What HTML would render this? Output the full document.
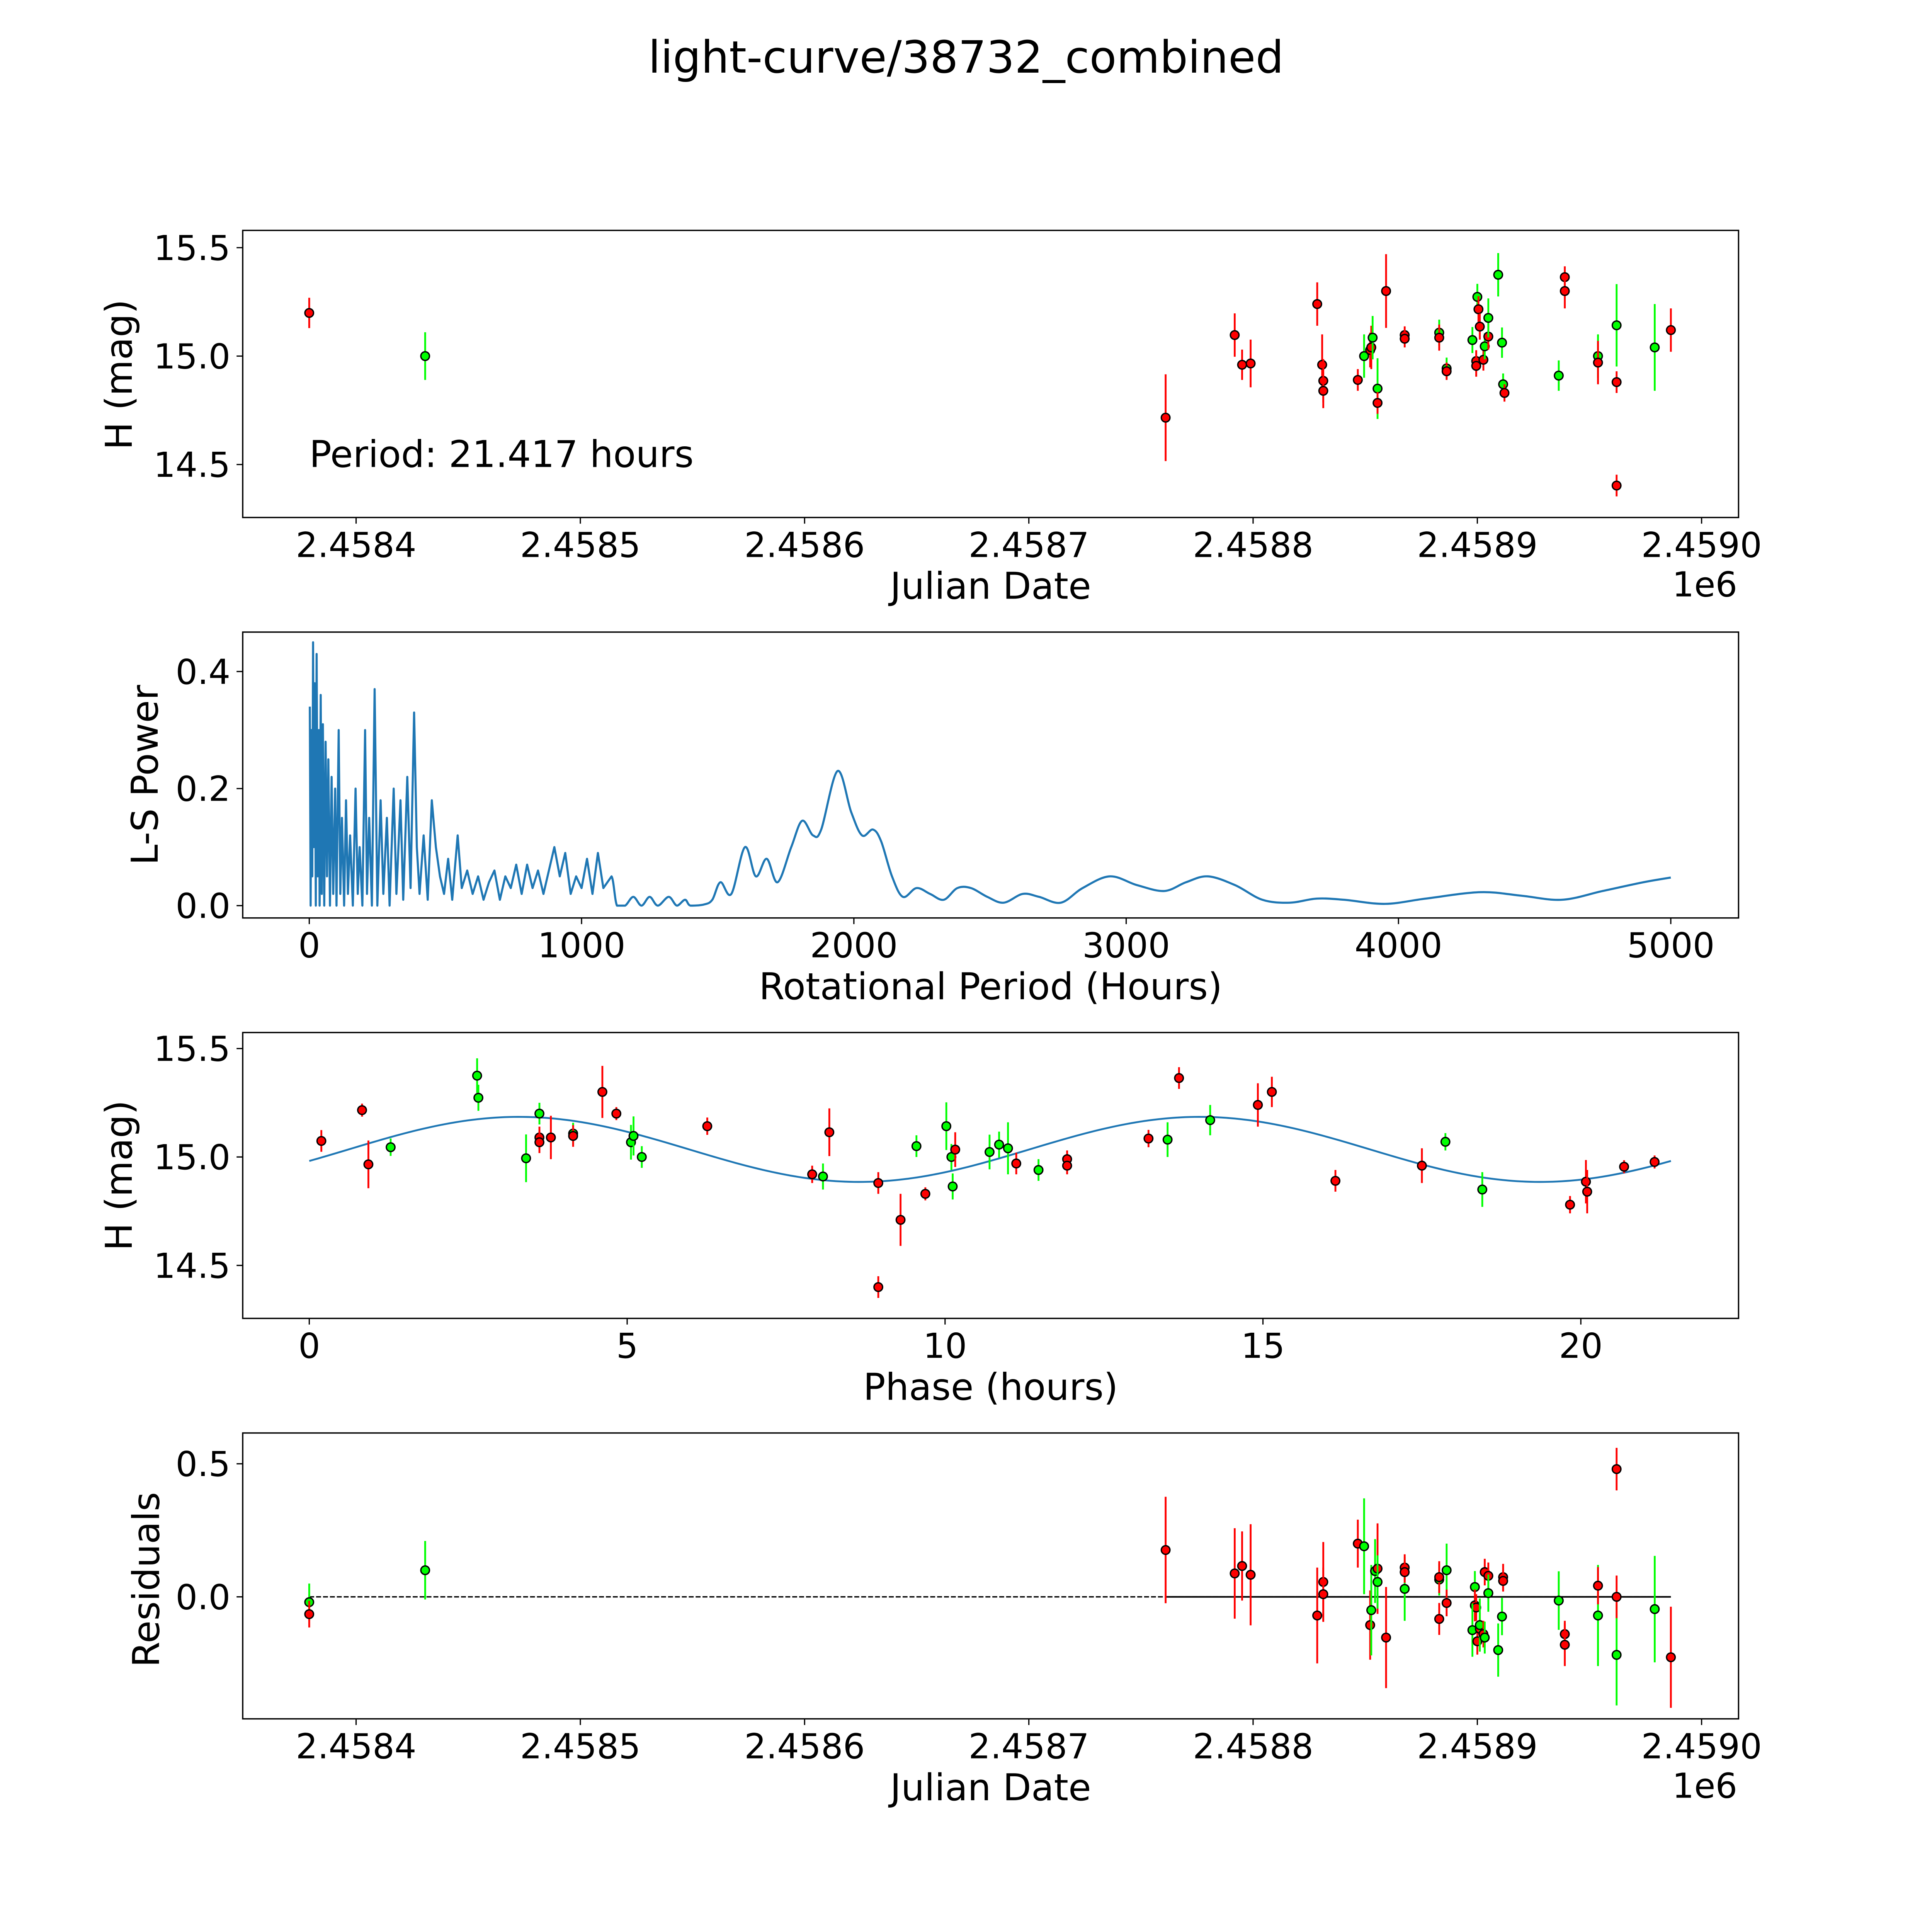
<!DOCTYPE html>
<html><head><meta charset="utf-8"><style>
html,body{margin:0;padding:0;background:#fff;overflow:hidden;width:100vw;height:100vh}
svg{display:block;position:fixed;left:0;top:0;width:100vw;height:100vh}
text{font-family:"DejaVu Sans","Liberation Sans",sans-serif;fill:#000}
</style></head><body>
<svg id="fig" viewBox="0 0 1568 1568" preserveAspectRatio="none" xmlns="http://www.w3.org/2000/svg">
<rect width="1568" height="1568" fill="#fff"/>
<text x="784" y="59" font-size="36" text-anchor="middle">light-curve/38732_combined</text>
</svg>
<script>
// ---------- Panel 1: raw light curve (JD offset from 2458400, mag, err, band) ----------
const lcJD   = [-20.9,30.8,361.0,391.8,395.1,398.9,428.6,430.8,431.3,431.3,446.7,449.5,452.2,452.7,453.3,455.5,455.5,459.3,467.6,467.6,483.0,483.0,486.3,486.3,497.8,499.5,499.5,500.0,500.5,501.1,502.7,503.3,504.9,504.9,509.3,511.0,511.5,512.1,536.3,539.0,539.0,553.8,553.8,562.1,562.1,562.1,579.1,586.3];
const lcMag  = [15.199,15.0,14.716,15.097,14.96,14.966,15.24,14.96,14.886,14.84,14.89,15.0,15.028,15.04,15.085,14.85,14.784,15.30,15.097,15.08,15.108,15.085,14.943,14.93,15.074,14.977,14.955,15.273,15.216,15.136,14.983,15.045,15.09,15.176,15.375,15.062,14.87,14.83,14.91,15.364,15.30,15.0,14.97,15.142,14.88,14.403,15.04,15.12];
const lcErr  = [0.07,0.11,0.2,0.1,0.07,0.11,0.1,0.14,0.1,0.08,0.05,0.1,0.08,0.1,0.1,0.14,0.05,0.17,0.04,0.04,0.06,0.06,0.05,0.04,0.06,0.05,0.05,0.06,0.06,0.06,0.05,0.06,0.06,0.09,0.1,0.07,0.05,0.04,0.07,0.05,0.08,0.1,0.1,0.19,0.05,0.05,0.2,0.1];
const lcBand = ["r","g","r","r","r","r","r","r","r","r","r","g","r","r","g","g","r","r","r","r","g","r","g","r","g","r","r","g","r","r","r","g","r","g","g","g","g","r","g","r","r","g","r","g","r","r","g","r"];
const jdTicks = ["2.4584","2.4585","2.4586","2.4587","2.4588","2.4589","2.4590"];
const jdTickVals = [0,100,200,300,400,500,600];
const magTicks = [15.5,15.0,14.5];
// ---------- Panel 2: periodogram ----------
const lsPeriod = [2,5,8,11,14,17,20,24,27,31,35,38,42,46,50,55,60,65,70,76,82,88,95,100,108,114,120,128,135,142,150,160,170,178,185,195,205,212,220,230,240,250,262,272,285,295,310,320,335,345,360,372,385,395,405,420,435,450,465,480,495,510,525,545,560,580,600,620,640,660,680,700,720,740,760,780,800,820,840,860,890,900,920,940,960,980,1000,1020,1040,1060,1080,1110,1130,1160,1190,1220,1250,1280,1320,1350,1380,1400,1450,1480,1510,1550,1600,1640,1680,1720,1770,1810,1850,1880,1940,1990,2030,2070,2100,2140,2180,2230,2280,2330,2380,2430,2490,2550,2620,2680,2760,2840,2940,3040,3140,3220,3300,3400,3500,3600,3700,3800,3950,4100,4300,4450,4600,4750,4900,5000];
const lsPower  = [0.34,0,0.3,0.05,0.45,0.1,0.38,0,0.43,0.05,0.3,0,0.36,0.02,0.31,0,0.28,0.05,0.25,0,0.22,0.02,0.2,0,0.3,0.02,0.15,0,0.18,0.02,0.12,0,0.2,0.02,0.1,0,0.3,0.02,0.15,0,0.37,0,0.18,0.02,0.15,0,0.2,0.02,0.18,0.01,0.22,0.03,0.33,0.1,0.02,0.12,0.01,0.18,0.1,0.05,0.02,0.08,0.01,0.12,0.03,0.06,0.02,0.05,0.01,0.04,0.06,0.01,0.05,0.03,0.07,0.02,0.07,0.03,0.06,0.02,0.08,0.1,0.05,0.09,0.02,0.05,0.03,0.08,0.02,0.09,0.03,0.05,0,0,0.015,0,0.015,0,0.015,0,0.01,0,0.002,0.01,0.04,0.02,0.1,0.05,0.08,0.04,0.1,0.145,0.12,0.13,0.23,0.16,0.12,0.13,0.11,0.05,0.015,0.03,0.02,0.01,0.03,0.03,0.015,0.005,0.02,0.015,0.005,0.03,0.05,0.035,0.025,0.04,0.05,0.035,0.01,0.005,0.012,0.01,0.003,0.012,0.023,0.017,0.01,0.025,0.04,0.048];
const lsXTicks = [0,1000,2000,3000,4000,5000];
const lsYTicks = [0.0,0.2,0.4];
// ---------- Panel 3: phased ----------
const phHours = [0.19,0.83,0.93,1.28,2.64,2.66,3.41,3.62,3.62,3.62,3.8,4.15,4.15,4.61,4.83,5.06,5.1,5.23,6.26,7.91,8.08,8.18,8.95,8.95,9.3,9.55,9.69,10.02,10.1,10.12,10.16,10.7,10.85,10.99,11.12,11.47,11.92,11.92,13.2,13.5,13.68,14.17,14.92,15.14,16.14,17.5,17.87,18.45,19.83,20.08,20.1,20.68,21.16];
const phMag   = [15.074,15.216,14.966,15.045,15.375,15.273,14.994,15.2,15.09,15.068,15.09,15.108,15.097,15.3,15.2,15.068,15.097,15.0,15.142,14.92,14.91,15.114,14.88,14.40,14.71,15.05,14.83,15.142,15.0,14.864,15.034,15.023,15.057,15.04,14.97,14.94,14.99,14.96,15.085,15.08,15.364,15.17,15.24,15.3,14.89,14.96,15.07,14.85,14.78,14.886,14.84,14.955,14.977];
const phErr   = [0.05,0.03,0.11,0.04,0.08,0.06,0.11,0.05,0.05,0.05,0.1,0.05,0.05,0.12,0.03,0.08,0.09,0.05,0.04,0.04,0.06,0.11,0.05,0.05,0.12,0.05,0.03,0.11,0.06,0.06,0.08,0.08,0.06,0.12,0.05,0.05,0.04,0.04,0.04,0.08,0.05,0.07,0.1,0.07,0.05,0.08,0.04,0.08,0.04,0.1,0.1,0.03,0.03];
const phBand  = ["r","r","r","g","g","g","g","g","r","r","r","g","r","r","r","g","g","g","r","r","g","r","r","r","r","g","r","g","g","g","r","g","g","g","r","g","r","r","r","g","r","g","r","r","r","r","g","g","r","r","r","r","r"];
const phXTicks = [0,5,10,15,20];
const fitMean = 15.035, fitAmp = 0.15, fitPeriod = 10.7085, fitT0 = 0.62, fitEnd = 21.417;
// ---------- Panel 4: residuals ----------
const rsJD   = [-20.9,-20.9,30.8,361.0,391.8,395.1,398.9,428.6,431.3,431.3,446.7,449.5,452.2,452.7,454.4,455.5,455.5,459.3,467.6,467.6,467.6,483.0,483.0,483.0,486.3,486.3,498.9,498.9,499.5,497.8,500.0,501.1,501.1,502.7,503.3,503.3,504.9,504.9,509.3,511.5,511.5,511.0,536.3,539.0,539.0,553.8,553.8,562.1,562.1,562.1,579.1,586.3];
const rsVal  = [-0.02,-0.065,0.1,0.176,0.088,0.116,0.083,-0.07,0.056,0.01,0.2,0.19,-0.106,-0.05,0.097,0.106,0.056,-0.153,0.03,0.11,0.093,0.065,0.074,-0.083,0.1,-0.023,0.037,-0.032,-0.04,-0.125,-0.167,-0.12,-0.106,-0.14,-0.153,0.093,0.079,0.014,-0.2,0.074,0.06,-0.074,-0.014,-0.14,-0.18,-0.07,0.042,-0.218,0.0,0.48,-0.046,-0.227];
const rsErr  = [0.07,0.05,0.11,0.2,0.17,0.13,0.19,0.18,0.15,0.1,0.09,0.18,0.13,0.17,0.12,0.17,0.1,0.19,0.12,0.05,0.04,0.06,0.06,0.06,0.1,0.05,0.06,0.06,0.05,0.1,0.05,0.06,0.1,0.05,0.06,0.05,0.05,0.07,0.1,0.05,0.04,0.07,0.11,0.05,0.08,0.19,0.07,0.19,0.08,0.08,0.2,0.19];
const rsBand = ["g","r","g","r","r","r","r","r","r","r","r","g","r","g","g","r","g","r","g","r","r","g","r","r","g","r","g","r","r","g","r","r","g","r","g","r","r","g","g","r","r","g","g","r","r","g","r","g","r","r","g","r"];
const rsTicks = [0.5,0.0];

const NS="http://www.w3.org/2000/svg";
const svg=document.getElementById('fig');
function mk(tag,attrs,parent){const e=document.createElementNS(NS,tag);for(const k in attrs)e.setAttribute(k,attrs[k]);(parent||svg).appendChild(e);return e;}
const AX_L=197, AX_R=1411;
const TF=28, LF=30;
const COL={r:"#ff0000",g:"#00ff00"};
function frame(top,bot,name){
  const g=mk('g',{});
  
  
  return g;
}
function border(g,top,bot){
  const r=mk('rect',{x:AX_L,y:top,width:AX_R-AX_L,height:bot-top,fill:'none',stroke:'#000','stroke-width':1.1},g);
  
  
}
function xtick(g,x,bot,label){
  mk('line',{x1:x,y1:bot,x2:x,y2:bot+5,stroke:'#000','stroke-width':1},g);
  const t=mk('text',{x:x,y:bot+32,'font-size':TF,'text-anchor':'middle'},g);t.textContent=label;
  
  
}
function ytick(g,y,label){
  mk('line',{x1:AX_L-5,y1:y,x2:AX_L,y2:y,stroke:'#000','stroke-width':1},g);
  const t=mk('text',{x:AX_L-10,y:y+10,'font-size':TF,'text-anchor':'end'},g);t.textContent=label;
  
  
}
function xlabel(g,y,s){const t=mk('text',{x:804,y:y,'font-size':LF,'text-anchor':'middle'},g);t.textContent=s;
  
  }
function ylabel(g,cy,x,s){const t=mk('text',{x:x,y:cy,'font-size':LF,'text-anchor':'middle',transform:`rotate(-90 ${x} ${cy})`},g);t.textContent=s;
  
  }
function point(g,x,y,y1,y2,c){
  const l=mk('line',{x1:x,y1:y1,x2:x,y2:y2,stroke:c,'stroke-width':1.5},g);
  
  
  const p=mk('circle',{cx:x,cy:y,r:3.5,fill:c,stroke:'#000','stroke-width':1.1},g);
  
  
}
const jdX=v=>289+v*1.82;
// ----- Panel 1 -----
(function(){
  const top=187,bot=420,g=frame(top,bot,'light-curve-panel');
  const yM=m=>289-(m-15)*176;
  for(let i=0;i<lcJD.length;i++){const c=COL[lcBand[i]];point(g,jdX(lcJD[i]),yM(lcMag[i]),yM(lcMag[i]+lcErr[i]),yM(lcMag[i]-lcErr[i]),c);}
  border(g,top,bot);
  jdTicks.forEach((s,i)=>xtick(g,jdX(jdTickVals[i]),bot,s));
  magTicks.forEach(m=>ytick(g,yM(m),m.toFixed(1)));
  xlabel(g,486,'Julian Date');
  ylabel(g,304,107,'H (mag)');
  const o=mk('text',{x:1410,y:484,'font-size':TF,'text-anchor':'end'},g);o.textContent='1e6';
  
  
  const p=mk('text',{x:251,y:379,'font-size':LF},g);p.textContent='Period: 21.417 hours';
  
  
})();
// ----- Panel 2 -----
(function(){
  const top=513,bot=745,g=frame(top,bot,'periodogram-panel');
  const xP=v=>251+v*0.221, yP=v=>735-v*475;
  const pts=lsPeriod.map((p,i)=>[xP(p),yP(lsPower[i])]);
  let d='M'+pts[0][0].toFixed(2)+' '+pts[0][1].toFixed(2);
  for(let i=1;i<pts.length;i++){
    if(lsPeriod[i]<=1120){d+='L'+pts[i][0].toFixed(2)+' '+pts[i][1].toFixed(2);continue;}
    const p0=pts[i-2]||pts[i-1],p1=pts[i-1],p2=pts[i],p3=pts[i+1]||pts[i];
    const c1x=p1[0]+(p2[0]-p0[0])/6,c1y=Math.min(yP(0),p1[1]+(p2[1]-p0[1])/6);
    const c2x=p2[0]-(p3[0]-p1[0])/6,c2y=Math.min(yP(0),p2[1]-(p3[1]-p1[1])/6);
    d+=`C${c1x.toFixed(2)} ${c1y.toFixed(2)} ${c2x.toFixed(2)} ${c2y.toFixed(2)} ${p2[0].toFixed(2)} ${p2[1].toFixed(2)}`;
  }
  const path=mk('path',{d:d,fill:'none',stroke:'#1f77b4','stroke-width':1.7,'stroke-linejoin':'round'},g);
  
  
  border(g,top,bot);
  lsXTicks.forEach(v=>xtick(g,xP(v),bot,String(v)));
  lsYTicks.forEach(v=>ytick(g,yP(v),v.toFixed(1)));
  xlabel(g,811,'Rotational Period (Hours)');
  ylabel(g,629,128,'L-S Power');
})();
// ----- Panel 3 -----
(function(){
  const top=838,bot=1070,g=frame(top,bot,'phased-panel');
  const xH=v=>251+v*51.6, yM=m=>939-(m-15)*176;
  let d='';for(let i=0;i<=300;i++){const t=fitEnd*i/300;const m=fitMean+fitAmp*Math.sin(2*Math.PI*(t-fitT0)/fitPeriod);d+=(i?'L':'M')+xH(t).toFixed(2)+' '+yM(m).toFixed(2);}
  const path=mk('path',{d:d,fill:'none',stroke:'#1f77b4','stroke-width':1.5},g);
  
  
  for(let i=0;i<phHours.length;i++){const c=COL[phBand[i]];point(g,xH(phHours[i]),yM(phMag[i]),yM(phMag[i]+phErr[i]),yM(phMag[i]-phErr[i]),c);}
  border(g,top,bot);
  phXTicks.forEach(v=>xtick(g,xH(v),bot,String(v)));
  magTicks.forEach(m=>ytick(g,yM(m),m.toFixed(1)));
  xlabel(g,1136,'Phase (hours)');
  ylabel(g,954,107,'H (mag)');
})();
// ----- Panel 4 -----
(function(){
  const top=1163,bot=1395,g=frame(top,bot,'residuals-panel');
  const yR=v=>1296-v*216;
  const dl=mk('line',{x1:jdX(-20.9),y1:yR(0),x2:jdX(586.3),y2:yR(0),stroke:'#000','stroke-width':1.1,'stroke-dasharray':'4 1.6'},g);
  
  
  const sl=mk('line',{x1:jdX(361.0),y1:yR(0),x2:jdX(586.3),y2:yR(0),stroke:'#000','stroke-width':1.3},g);
  
  
  for(let i=0;i<rsJD.length;i++){const c=COL[rsBand[i]];point(g,jdX(rsJD[i]),yR(rsVal[i]),yR(rsVal[i]+rsErr[i]),yR(rsVal[i]-rsErr[i]),c);}
  border(g,top,bot);
  jdTicks.forEach((s,i)=>xtick(g,jdX(jdTickVals[i]),bot,s));
  rsTicks.forEach(v=>ytick(g,yR(v),v.toFixed(1)));
  xlabel(g,1461,'Julian Date');
  ylabel(g,1282,129,'Residuals');
  const o=mk('text',{x:1410,y:1459,'font-size':TF,'text-anchor':'end'},g);o.textContent='1e6';
  
  
})();
</script>
</body></html>
